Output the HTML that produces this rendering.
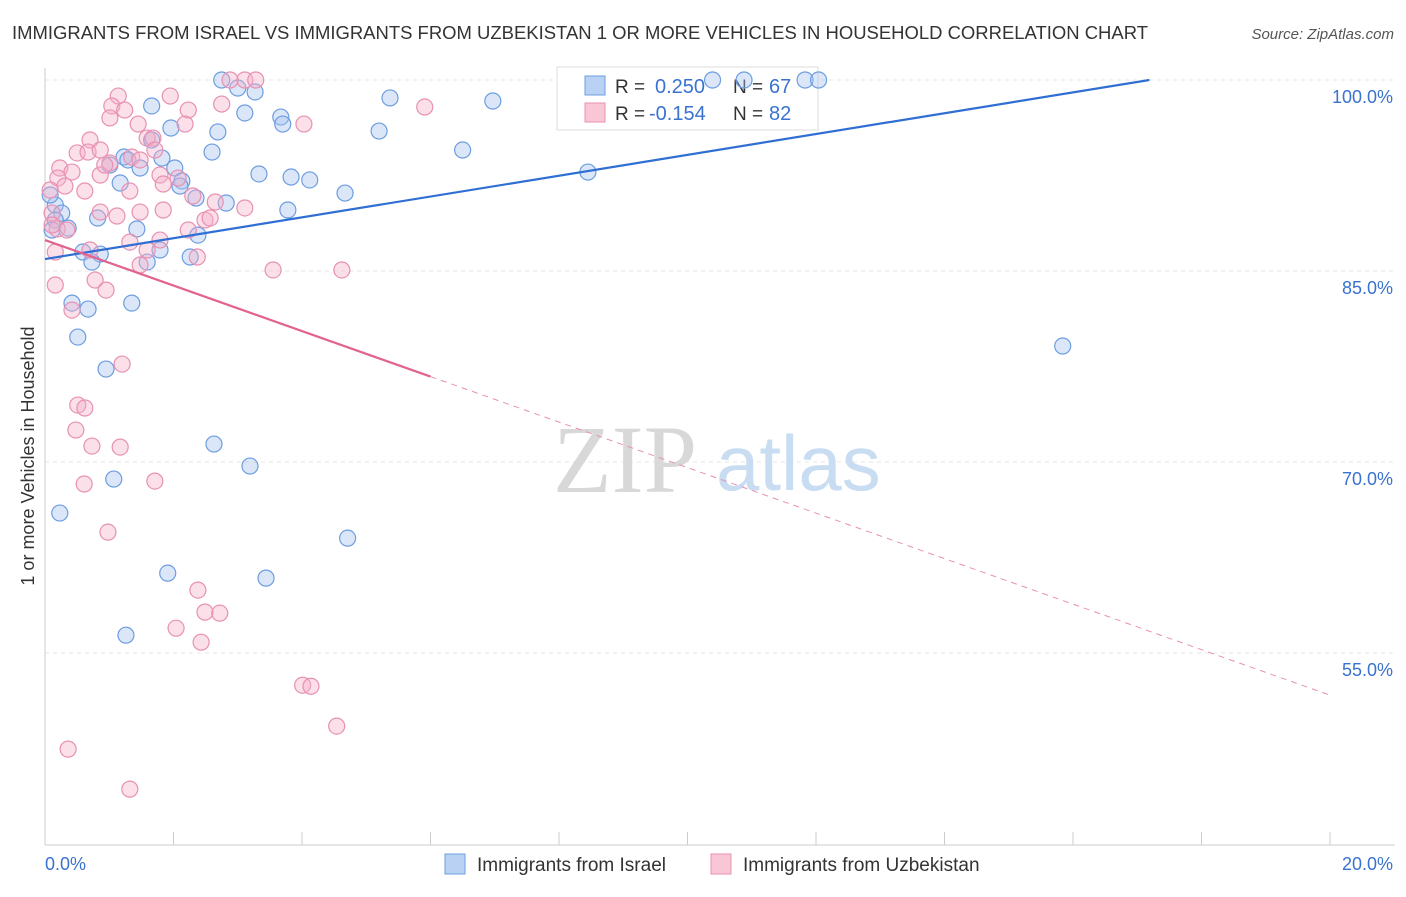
<!DOCTYPE html>
<html><head><meta charset="utf-8"><style>
body{margin:0;background:#fff;font-family:"Liberation Sans",sans-serif;}
</style></head><body>
<svg id="chart" width="1406" height="892" xmlns="http://www.w3.org/2000/svg" font-family="Liberation Sans, sans-serif">
<text x="12" y="39" font-size="18.4" fill="#333" textLength="1136" lengthAdjust="spacingAndGlyphs">IMMIGRANTS FROM ISRAEL VS IMMIGRANTS FROM UZBEKISTAN 1 OR MORE VEHICLES IN HOUSEHOLD CORRELATION CHART</text>
<text x="1394" y="39" font-size="15" fill="#555" font-style="italic" text-anchor="end">Source: ZipAtlas.com</text>
<g id="grid"></g>
<g>
<text x="553" y="492" font-size="96" fill="#d8d8d8" font-family="Liberation Serif, serif">ZIP</text>
<text x="716" y="490" font-size="78" fill="#c8dcf2">atlas</text>
</g>
<g>
<rect x="557" y="67" width="261" height="63" fill="#fff" stroke="#ddd"/>
<rect x="585" y="76" width="20" height="19" fill="#b9d2f4" stroke="#6d9de0"/>
<rect x="585" y="103" width="20" height="19" fill="#f9c6d6" stroke="#e891b2"/>
<text x="615" y="93" font-size="19" fill="#333">R =</text>
<text x="655" y="93" font-size="20" fill="#3a72d0">0.250</text>
<text x="733" y="93" font-size="19" fill="#333">N =</text>
<text x="769" y="93" font-size="20" fill="#3a72d0">67</text>
<text x="615" y="120" font-size="19" fill="#333">R =</text>
<text x="649" y="120" font-size="20" fill="#3a72d0">-0.154</text>
<text x="733" y="120" font-size="19" fill="#333">N =</text>
<text x="769" y="120" font-size="20" fill="#3a72d0">82</text>
</g>
<g id="axes"></g>
<g id="marks"></g>
<text transform="translate(34,456) rotate(-90)" font-size="18" fill="#333" text-anchor="middle">1 or more Vehicles in Household</text>
<g>
<rect x="445" y="854" width="20" height="20" fill="#b9d2f4" stroke="#6d9de0"/>
<text x="477" y="871" font-size="19" fill="#333">Immigrants from Israel</text>
<rect x="711" y="854" width="20" height="20" fill="#f9c6d6" stroke="#e891b2"/>
<text x="743" y="871" font-size="19" fill="#333">Immigrants from Uzbekistan</text>
</g>
</svg>
<script>
const yTicks=[100,85,70,55];
const yTickLabels=["100.0%","85.0%","70.0%","55.0%"];
const xTicks=[0,2,4,6,8,10,12,14,16,18,20];
const israelX=[2.75,3.0,3.27,1.66,3.11,5.37,6.97,3.67,3.70,2.69,5.20,1.96,6.50,2.60,1.23,1.29,1.66,1.01,1.48,1.82,2.02,1.17,2.13,2.10,3.33,3.83,4.12,4.67,2.35,2.82,3.78,8.45,0.16,0.26,0.16,0.82,0.36,0.11,1.43,2.38,0.59,0.86,0.73,1.79,2.26,1.59,0.42,0.67,1.35,0.51,15.84,0.95,2.63,3.19,1.07,0.23,4.71,1.91,3.44,1.26,10.39,10.88,11.83,12.04,0.08];
const israelY=[100,99.37,99.06,97.96,97.41,98.59,98.35,97.09,96.54,95.92,95.99,96.23,94.50,94.34,93.95,93.72,95.29,93.32,93.09,93.87,93.09,91.91,92.07,91.67,92.62,92.38,92.15,91.12,90.73,90.34,89.79,92.77,90.18,89.55,89.0,89.16,88.37,88.22,88.30,87.82,86.49,86.33,85.70,86.65,86.10,85.70,82.48,82.01,82.48,79.81,79.11,77.30,71.41,69.68,68.66,65.99,64.02,61.27,60.88,56.40,100,100,100,100,90.97];
const uzbX=[1.14,1.95,3.11,3.28,5.91,1.04,1.24,2.23,2.75,4.03,1.01,1.45,2.18,0.70,1.59,1.68,0.50,0.67,0.86,1.35,1.01,1.48,0.23,0.42,0.20,0.86,1.79,0.31,0.62,1.32,1.84,2.30,0.11,0.86,1.12,1.84,3.11,2.49,2.57,0.19,0.34,1.32,2.23,0.70,0.16,1.59,2.37,1.48,3.55,4.62,0.78,0.95,0.16,0.42,1.20,0.51,0.62,0.48,0.73,1.17,0.61,1.71,0.98,2.38,2.49,2.72,2.04,2.43,4.01,4.14,4.54,0.36,1.32,2.88,1.71,1.48,1.79,0.11,2.65,0.08,0.93,2.07];
const uzbY=[98.74,98.74,100,100,97.88,97.96,97.64,97.64,98.11,96.54,97.02,96.54,96.54,95.29,95.44,95.44,94.27,94.34,94.50,93.95,93.48,93.72,93.09,92.77,92.30,92.54,92.54,91.67,91.28,91.28,91.83,90.89,89.55,89.63,89.32,89.79,89.95,89.0,89.16,88.30,88.22,87.27,88.22,86.65,86.49,86.65,86.10,85.47,85.08,85.08,84.29,83.50,83.90,81.93,77.69,74.47,74.24,72.51,71.25,71.17,68.27,68.50,64.49,59.94,58.21,58.13,56.95,55.85,52.47,52.39,49.26,47.45,44.31,100,94.50,89.63,87.43,88.61,90.42,91.36,93.32,92.30];
const blueFit=[0.818,85.94];
const pinkFit=[-1.787,87.43];
const pinkSolidEnd=6.0;

const NS="http://www.w3.org/2000/svg";
const X=v=>45+v/20*1285;
const Y=v=>80+(100-v)/15*191;
function mk(tag,attrs,parent){const e=document.createElementNS(NS,tag);for(const k in attrs)e.setAttribute(k,attrs[k]);document.getElementById(parent).appendChild(e);return e;}
yTicks.forEach((t,i)=>{
  const l=mk('line',{x1:45,x2:1395,y1:Y(t),y2:Y(t),stroke:'#e4e4e4','stroke-dasharray':'4,4'},'grid');
  
  
  const tx=mk('text',{x:1393,y:Y(t)+23,'font-size':18,fill:'#3a72d0','text-anchor':'end'},'axes');
  tx.textContent=yTickLabels[i];
  
  
});
const ax=mk('line',{x1:45,x2:45,y1:68,y2:845,stroke:'#ccc'},'axes');


const bx=mk('line',{x1:45,x2:1395,y1:845,y2:845,stroke:'#ccc'},'axes');


xTicks.forEach(t=>{
  const l=mk('line',{x1:X(t),x2:X(t),y1:832,y2:845,stroke:'#ccc'},'axes');
  
  
});
const xl0=mk('text',{x:45,y:870,'font-size':18,fill:'#3a72d0'},'axes');xl0.textContent='0.0%';


const xl1=mk('text',{x:1393,y:870,'font-size':18,fill:'#3a72d0','text-anchor':'end'},'axes');xl1.textContent='20.0%';



israelX.forEach((v,i)=>{
  const c=mk('circle',{cx:X(v),cy:Y(israelY[i]),r:8,fill:'rgba(164,196,240,0.4)',stroke:'#6d9de0','stroke-width':1.2},'marks');
  
  
});
uzbX.forEach((v,i)=>{
  const c=mk('circle',{cx:X(v),cy:Y(uzbY[i]),r:8,fill:'rgba(244,174,200,0.4)',stroke:'#e891b2','stroke-width':1.2},'marks');
  
  
});
const bEnd=(100-blueFit[1])/blueFit[0];
const bl=mk('line',{x1:X(0),y1:Y(blueFit[1]),x2:X(bEnd),y2:Y(100),stroke:'#2f6fd4','stroke-width':2.2},'marks');


const pf=x=>pinkFit[0]*x+pinkFit[1];
const pl=mk('line',{x1:X(0),y1:Y(pf(0)),x2:X(pinkSolidEnd),y2:Y(pf(pinkSolidEnd)),stroke:'#e2638f','stroke-width':2.2},'marks');


const pd=mk('line',{x1:X(pinkSolidEnd),y1:Y(pf(pinkSolidEnd)),x2:X(20),y2:Y(pf(20)),stroke:'#e891b2','stroke-width':1,'stroke-dasharray':'6,5'},'marks');


</script>
</body></html>
